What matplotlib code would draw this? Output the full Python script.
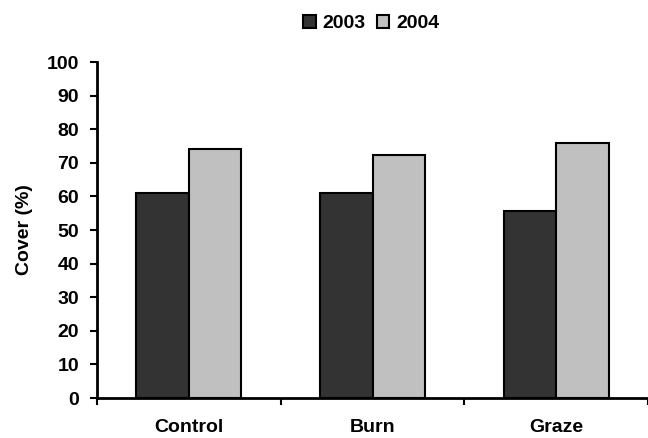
import numpy as np
import matplotlib
matplotlib.use("Agg")
import matplotlib.pyplot as plt

plt.rcParams['font.family'] = ['Liberation Sans', 'DejaVu Sans']
plt.rcParams['font.weight'] = 'bold'

treatments = ["Control", "Burn", "Graze"]
years = ["2003", "2004"]
cover_2003 = [61.0, 61.0, 55.8]
cover_2004 = [74.0, 72.3, 75.8]

fig = plt.figure(figsize=(6.48, 4.38), dpi=100)
ax = fig.add_axes([0.1497, 0.0913, 0.8503, 0.767])

x = np.arange(len(treatments))
w = 0.285
ax.bar(x - w/2, cover_2003, w, color="#333333", edgecolor="black", linewidth=1.5, label=years[0])
ax.bar(x + w/2, cover_2004, w, color="#c0c0c0", edgecolor="black", linewidth=1.5, label=years[1])

ax.set_xlim(-0.5, 2.478)
ax.set_ylim(0, 100)
ax.set_yticks(np.arange(0, 101, 10))
ax.set_xticks(x)
ax.set_xticklabels(treatments, fontsize=14, fontweight='bold')
ax.set_xticks(np.arange(-0.5, 2.6, 1), minor=True)
ax.tick_params(axis='x', which='major', length=0, pad=15)
ax.tick_params(axis='x', which='minor', length=5, width=1.5, direction='out')
ax.tick_params(axis='y', length=5, width=1.5, direction='out', labelsize=14, pad=8)
for lab in ax.get_yticklabels():
    lab.set_fontweight('bold')

for s in ['top', 'right']:
    ax.spines[s].set_visible(False)
for s in ['left', 'bottom']:
    ax.spines[s].set_linewidth(2)

ax.set_ylabel("Cover (%)", fontsize=14, fontweight='bold')
ax.yaxis.set_label_coords(-0.116, 0.5)

fig.legend(loc='center', bbox_to_anchor=(0.573, 0.946), ncol=2, frameon=False,
           handlelength=0.65, handleheight=0.65, handletextpad=0.35,
           columnspacing=0.55, borderpad=0, prop={'weight': 'bold', 'size': 14})

fig.savefig("out.png", dpi=100)
